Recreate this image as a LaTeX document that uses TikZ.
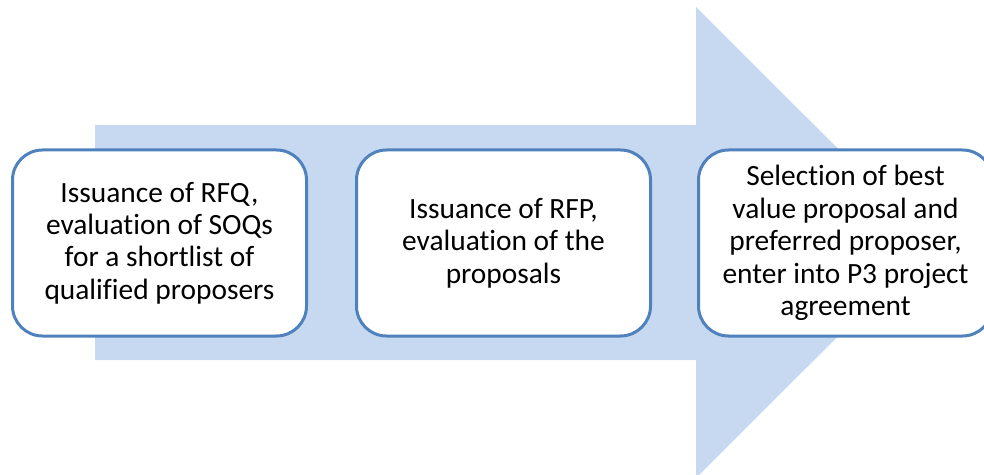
\documentclass[tikz,border=0pt]{standalone}
\usepackage{fontspec}
\setmainfont[Ligatures=NoCommon]{Carlito}
\usepackage{tikz}
\definecolor{arrowblue}{HTML}{C6D9F1}
\definecolor{stepline}{HTML}{4F81BD}
\tikzset{
  stepbox/.style={draw=stepline, line width=3pt, fill=white, rounded corners=30pt,
    minimum width=294pt, minimum height=186pt, align=center,
    font=\fontsize{29.4}{32.4}\selectfont, inner sep=0pt}
}
\begin{document}
\begin{tikzpicture}[x=1pt,y=1pt]
			%%%%% START %%%%%
			\useasboundingbox (0, 0) rectangle (984, 474);
			
			% big arrow
			\fill[arrowblue] (95, 349) -- (696, 349) -- (696, 467) -- (932, 231.5)
				-- (696, -4) -- (696, 114) -- (95, 114) -- cycle;
			
			% steps
			\node[stepbox] (rfq) at (159.5, 231) {Issuance of RFQ,\\evaluation of SOQs\\for a shortlist of\\qualified proposers};
			\node[stepbox] (rfp) at (503.5, 231) {Issuance of RFP,\\evaluation of the\\proposals};
			\node[stepbox] (select) at (845.5, 231) {Selection of best\\value proposal and\\preferred proposer,\\enter into P3 project\\agreement};
			
			%%%%% END %%%%%
		\end{tikzpicture}
\end{document}
